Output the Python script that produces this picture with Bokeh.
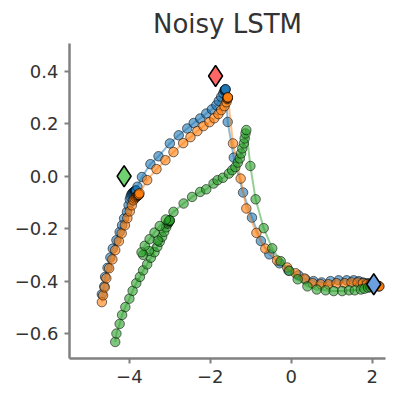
from bokeh.plotting import figure
from bokeh.models import Range1d, FixedTicker, CustomJSTickFormatter
from bokeh.embed import file_html
from bokeh.resources import INLINE

# ---- data ----
blue_x = [-4.68, -4.62, -4.60, -4.54, -4.47, -4.41, -4.32, -4.24, -4.18, -4.13, -4.06, -4.02, -3.99,
          -3.97, -3.95, -3.93, -3.91, -3.89, -3.87, -3.86, -3.85, -3.84, -3.84, -3.83,
          -3.80, -3.69, -3.48, -3.28, -3.00, -2.78, -2.57, -2.41, -2.25, -2.10, -1.96, -1.85, -1.79,
          -1.73, -1.68, -1.65, -1.64, -1.63, -1.63, -1.62,
          -1.57, -1.42, -1.19, -0.97, -0.75, -0.54, -0.29, -0.07, 0.18, 0.35, 0.55, 0.75, 0.97,
          1.17, 1.37, 1.54, 1.67, 1.77, 1.86, 1.94, 1.99, 2.03, 2.06, 2.08, 2.10, 2.11]
blue_y = [-0.450, -0.420, -0.384, -0.349, -0.310, -0.276, -0.244, -0.213, -0.187, -0.161, -0.136, -0.111, -0.089,
          -0.078, -0.070, -0.065, -0.062, -0.060, -0.058, -0.057, -0.056, -0.055, -0.055, -0.054,
          -0.040, -0.003, 0.046, 0.076, 0.125, 0.156, 0.182, 0.203, 0.220, 0.239, 0.255, 0.271, 0.287,
          0.303, 0.316, 0.326, 0.328, 0.330, 0.331, 0.332,
          0.207, 0.071, -0.062, -0.158, -0.247, -0.298, -0.332, -0.359, -0.378, -0.393, -0.400, -0.405, -0.400,
          -0.397, -0.397, -0.397, -0.400, -0.405, -0.408, -0.408, -0.412, -0.413, -0.414, -0.415, -0.415, -0.416]

orange_x = [-4.68, -4.65, -4.61, -4.57, -4.50, -4.42, -4.35, -4.26, -4.19, -4.11, -4.05, -3.99, -3.94, -3.90,
            -3.87, -3.84, -3.82, -3.80, -3.79, -3.78, -3.77, -3.77, -3.76,
            -3.75, -3.56, -3.33, -3.11, -2.91, -2.67, -2.49, -2.32, -2.17, -2.02, -1.90, -1.80, -1.73,
            -1.65, -1.60, -1.58, -1.575, -1.57, -1.57, -1.565,
            -1.44, -1.25, -1.11, -0.86, -0.64, -0.35, -0.10, 0.11, 0.33, 0.53, 0.73, 0.92, 1.12,
            1.32, 1.49, 1.64, 1.77, 1.87, 1.96, 2.04, 2.11, 2.14, 2.16, 2.17, 2.18]
orange_y = [-0.480, -0.454, -0.424, -0.389, -0.351, -0.317, -0.282, -0.248, -0.218, -0.187, -0.160, -0.134, -0.111, -0.092,
            -0.085, -0.080, -0.077, -0.075, -0.073, -0.072, -0.071, -0.070, -0.070,
            -0.065, -0.015, 0.027, 0.061, 0.092, 0.126, 0.149, 0.172, 0.191, 0.206, 0.221, 0.237, 0.252,
            0.267, 0.282, 0.294, 0.297, 0.300, 0.300, 0.301,
            0.125, -0.009, -0.123, -0.216, -0.276, -0.321, -0.348, -0.370, -0.390, -0.408, -0.412, -0.412, -0.408,
            -0.408, -0.405, -0.405, -0.408, -0.412, -0.412, -0.416, -0.416, -0.418, -0.419, -0.420, -0.420]

green_x = [-4.35, -4.32, -4.24, -4.18, -4.10, -4.00, -3.92, -3.83, -3.74, -3.66, -3.56, -3.47, -3.38, -3.31,
           -3.25, -3.19, -3.14, -3.09, -3.05, -3.03, -3.02, -3.01, -3.01, -3.00,
           -3.30, -3.52, -3.66, -3.70, -3.62, -3.50, -3.38, -3.25, -3.10,
           -2.91, -2.66, -2.45, -2.25, -2.10, -1.92, -1.82, -1.69, -1.54, -1.46, -1.38, -1.32, -1.27,
           -1.24, -1.21, -1.17, -1.15, -1.13, -1.11,
           -1.01, -0.88, -0.68, -0.47, -0.26, -0.05, 0.16, 0.40, 0.63, 0.85, 1.05, 1.26, 1.43, 1.57,
           1.72, 1.81, 1.90, 1.96, 2.01, 2.06]
green_y = [-0.632, -0.600, -0.563, -0.529, -0.499, -0.467, -0.437, -0.408, -0.384, -0.359, -0.336, -0.311, -0.290, -0.269,
           -0.250, -0.231, -0.212, -0.195, -0.181, -0.176, -0.172, -0.170, -0.169, -0.168,
           -0.245, -0.285, -0.300, -0.290, -0.265, -0.240, -0.215, -0.190, -0.165,
           -0.136, -0.104, -0.079, -0.060, -0.050, -0.028, -0.015, -0.006, 0.010, 0.023, 0.035, 0.052, 0.068,
           0.087, 0.106, 0.125, 0.144, 0.163, 0.176,
           0.039, -0.088, -0.198, -0.275, -0.324, -0.361, -0.393, -0.420, -0.432, -0.435, -0.438, -0.438, -0.435, -0.435,
           -0.432, -0.429, -0.425, -0.423, -0.420, -0.416]

fixed_x = [-4.13, -1.87, 2.04]
fixed_y = [0.0, 0.382, -0.412]
fixed_colors = ["#6fd16f", "#ff6666", "#6c9fe0"]

x_ticks = [-4, -2, 0, 2]
y_ticks = [-0.6, -0.4, -0.2, 0.0, 0.2, 0.4]

series = [
    (blue_x, blue_y, "#1f77b4"),
    (orange_x, orange_y, "#ff7f0e"),
    (green_x, green_y, "#2ca02c"),
]

p = figure(width=392, height=391, x_range=Range1d(-5.48, 2.33), y_range=Range1d(-0.695, 0.506),
           output_backend="svg", toolbar_location=None,
           min_border_left=69, min_border_right=7, min_border_top=43, min_border_bottom=33)

for xs, ys, c in series:
    p.line(xs, ys, line_color=c, line_alpha=0.5, line_width=2)
    p.scatter(xs, ys, size=9.5, fill_color=c, fill_alpha=0.6, line_color="black", line_alpha=0.55, line_width=1)

p.scatter(fixed_x, fixed_y, marker="diamond", size=21, fill_color=fixed_colors,
          line_color="black", line_width=1.5)

p.title.text = "Noisy LSTM"
p.title.align = "center"
p.title.text_font = "DejaVu Sans"
p.title.text_font_size = "26px"
p.title.text_font_style = "normal"
p.title.text_color = "#333333"

p.outline_line_color = None
p.xgrid.visible = False
p.ygrid.visible = False

p.xaxis.ticker = FixedTicker(ticks=x_ticks)
p.yaxis.ticker = FixedTicker(ticks=y_ticks)
p.xaxis.formatter = CustomJSTickFormatter(code="return (tick < -1e-9 ? '\u2212' : '') + Math.abs(tick).toFixed(0);")
p.yaxis.formatter = CustomJSTickFormatter(code="return (tick < -1e-9 ? '\u2212' : '') + Math.abs(tick).toFixed(1);")

for ax in (p.xaxis[0], p.yaxis[0]):
    ax.axis_line_color = "#808080"
    ax.axis_line_width = 2.5
    ax.major_tick_line_color = "#808080"
    ax.major_tick_line_width = 2
    ax.major_tick_out = 5
    ax.major_tick_in = 0
    ax.minor_tick_line_color = None
    ax.major_label_text_font = "DejaVu Sans"
    ax.major_label_text_font_size = "18px"
    ax.major_label_text_color = "#333333"
    ax.major_label_standoff = 6

open("out.html", "w").write(file_html(p, INLINE))
